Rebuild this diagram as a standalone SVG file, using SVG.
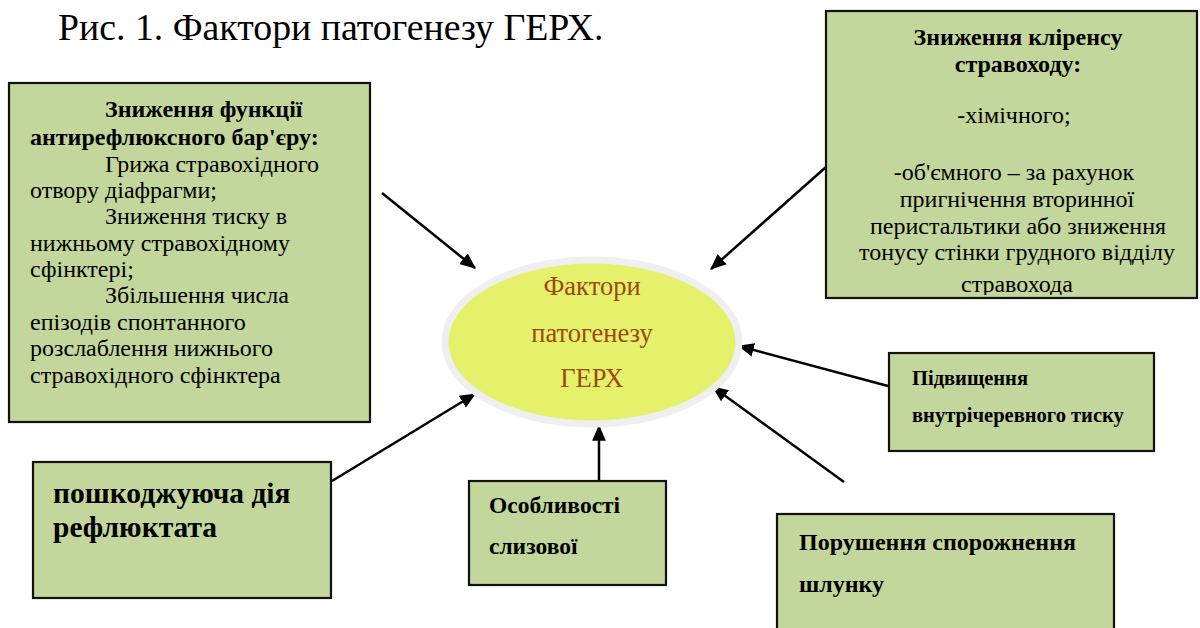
<svg xmlns="http://www.w3.org/2000/svg" width="1200" height="628" viewBox="0 0 1200 628" font-family="'Liberation Serif', 'Times New Roman', serif">
<style>
text{font-family:"Liberation Serif","Times New Roman",serif}
.b{font-weight:bold}
.box{fill:#c3d69b;stroke:#111;stroke-width:2.2}
.c{stroke:#000;stroke-width:2.5;fill:none}
.ctr{fill:#9c4a12;font-size:26.5px;text-anchor:middle}
</style>
<defs>
<marker id="arr" viewBox="0 0 14 12" refX="13" refY="6" markerWidth="16" markerHeight="14" markerUnits="userSpaceOnUse" orient="auto">
<path d="M0,0 L14,6 L0,12 z" fill="#000"/>
</marker>
<clipPath id="clipR"><rect x="826" y="11" width="371" height="284"/></clipPath>
</defs>
<rect width="1200" height="628" fill="#fff"/>
<text x="58" y="40" font-size="37.8">Рис. 1. Фактори патогенезу ГЕРХ.</text>

<g id="connectors">
<line class="c" x1="382" y1="193" x2="475" y2="268" marker-end="url(#arr)"/>
<line class="c" x1="826" y1="167" x2="711" y2="269" marker-end="url(#arr)"/>
<line class="c" x1="888" y1="386" x2="739" y2="346" marker-end="url(#arr)"/>
<line class="c" x1="844" y1="482" x2="713" y2="387" marker-end="url(#arr)"/>
<line class="c" x1="599" y1="481" x2="599" y2="426" marker-end="url(#arr)"/>
<line class="c" x1="332" y1="481" x2="475" y2="394" marker-end="url(#arr)"/>
</g>

<g id="center">
<ellipse cx="592" cy="342" rx="147" ry="82" fill="#e5f06b" stroke="#efefef" stroke-width="7"/>
<text class="ctr" x="592" y="295">Фактори</text>
<text class="ctr" x="592" y="342">патогенезу</text>
<text class="ctr" x="592" y="387">ГЕРХ</text>
</g>

<g id="antireflux">
<rect class="box" x="9" y="83" width="361" height="339"/>
<g font-size="24">
<text class="b" x="105" y="117">Зниження функції</text>
<text class="b" x="30" y="145">антирефлюксного бар'єру:</text>
<text x="105" y="172">Грижа стравохідного</text>
<text x="30" y="198">отвору діафрагми;</text>
<text x="105" y="224">Зниження тиску в</text>
<text x="30" y="251">нижньому стравохідному</text>
<text x="30" y="277">сфінктері;</text>
<text x="105" y="303">Збільшення числа</text>
<text x="30" y="330">епізодів спонтанного</text>
<text x="30" y="356">розслаблення нижнього</text>
<text x="30" y="383">стравохідного сфінктера</text>
</g>
</g>

<g id="clearance">
<rect class="box" x="826" y="11" width="371" height="287"/>
<g font-size="24" text-anchor="middle" clip-path="url(#clipR)">
<text class="b" x="1018" y="45">Зниження кліренсу</text>
<text class="b" x="1018" y="72">стравоходу:</text>
<text x="1014" y="123">-хімічного;</text>
<text x="1014" y="180">-об'ємного – за рахунок</text>
<text x="1017" y="207">пригнічення вторинної</text>
<text x="1018" y="234">перистальтики або зниження</text>
<text x="1017" y="260">тонусу стінки грудного відділу</text>
<text x="1017" y="292">стравохода</text>
</g>
</g>

<g id="pressure">
<rect class="box" x="889" y="353" width="265" height="98"/>
<g class="b" font-size="20.5">
<text x="912" y="385">Підвищення</text>
<text x="912" y="422">внутрічеревного тиску</text>
</g>
</g>

<g id="emptying">
<rect class="box" x="777" y="514" width="337" height="130"/>
<g class="b" font-size="24">
<text x="799" y="550">Порушення спорожнення</text>
<text x="799" y="592">шлунку</text>
</g>
</g>

<g id="mucosa">
<rect class="box" x="469" y="481" width="197" height="104"/>
<g class="b" font-size="23.5">
<text x="489" y="513">Особливості</text>
<text x="489" y="554">слизової</text>
</g>
</g>

<g id="refluxate">
<rect class="box" x="33" y="462" width="298" height="136"/>
<g class="b" font-size="29.5">
<text x="53" y="503">пошкоджуюча дія</text>
<text x="53" y="537">рефлюктата</text>
</g>
</g>
</svg>
